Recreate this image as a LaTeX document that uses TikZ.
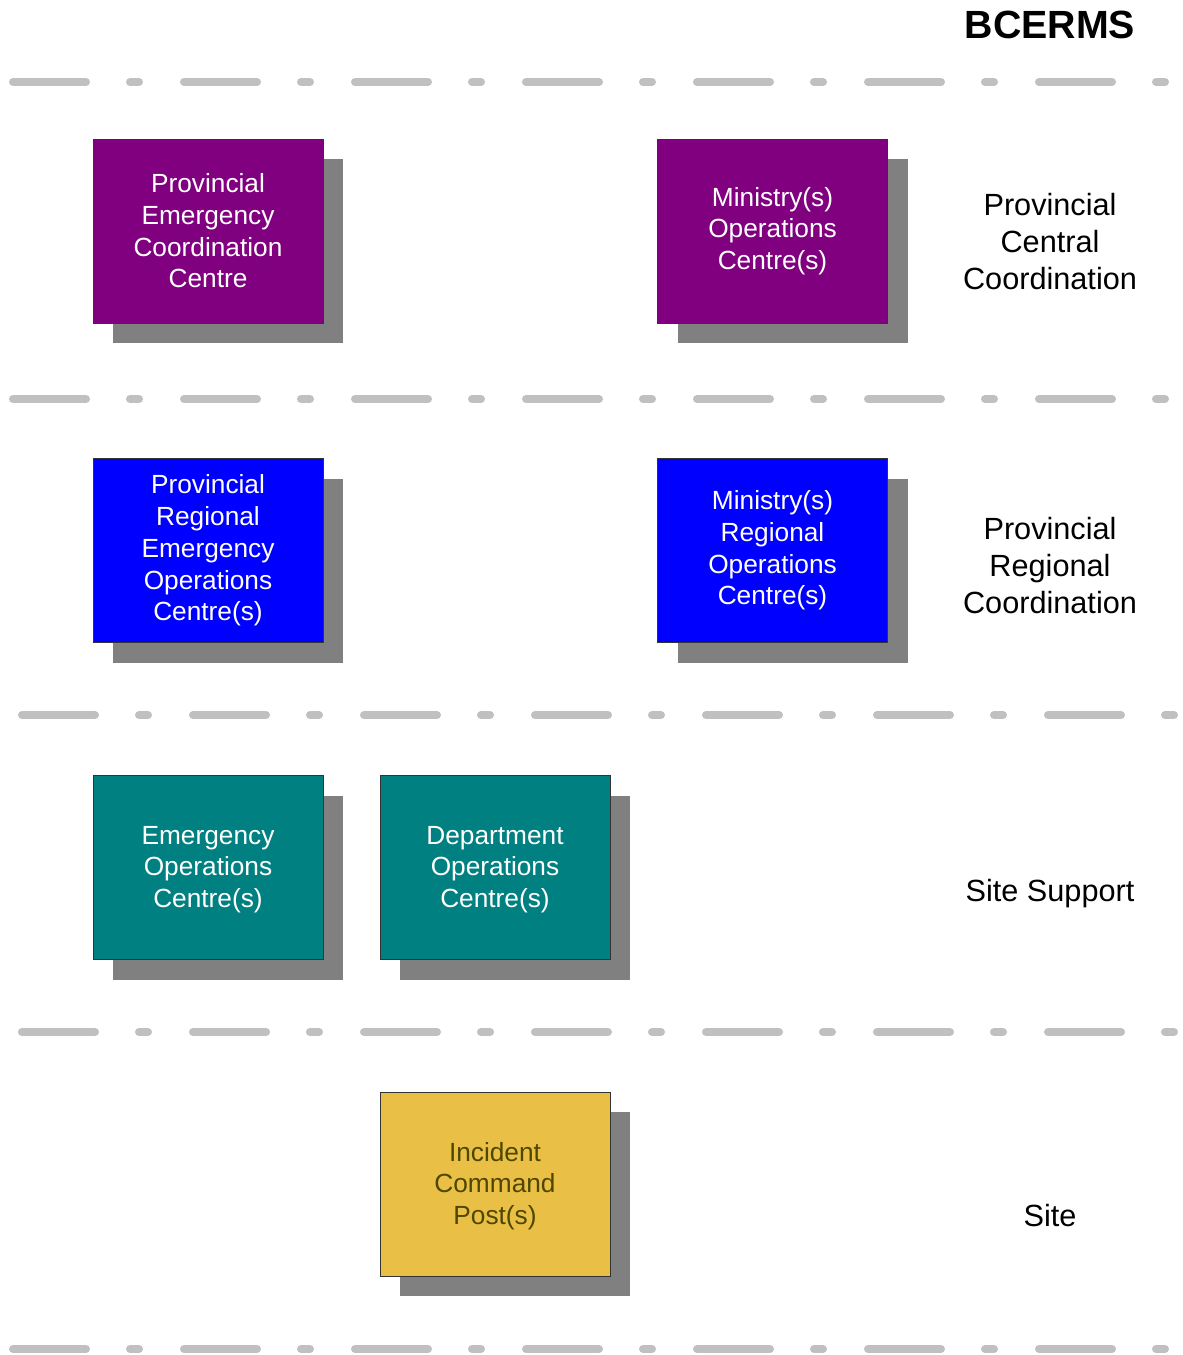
\documentclass[tikz,border=0pt]{standalone}
\usepackage{fontspec}
\setmainfont{Liberation Sans}
\usetikzlibrary{shadows}
\definecolor{dashgray}{RGB}{192,192,192}
\definecolor{shadowgray}{RGB}{128,128,128}
\definecolor{boxpurple}{RGB}{128,0,128}
\definecolor{boxblue}{RGB}{0,0,255}
\definecolor{boxteal}{RGB}{0,128,128}
\definecolor{boxgold}{RGB}{233,191,69}
\definecolor{goldtext}{RGB}{77,71,0}
\tikzset{
  sep/.style={draw=dashgray, line width=6pt, line cap=round,
    dash pattern=on 54.75pt off 33pt on 6.75pt off 33.75pt},
  unit/.style={draw=black!80, line width=0.7pt, minimum width=172.5pt, minimum height=138pt,
    inner sep=0pt, align=center, font=\fontsize{19.7}{23.8}\selectfont,
    general shadow={fill=shadowgray, shadow xshift=15pt, shadow yshift=-15pt}},
  level/.style={align=center, font=\fontsize{23}{27.75}\selectfont},
}
\begin{document}
\begin{tikzpicture}[x=0.75pt, y=-0.75pt]
\useasboundingbox (0,0) rectangle (1182,1355);
% separators
\coordinate (s1a) at (13,82);   \coordinate (s1b) at (1170,82);
\coordinate (s2a) at (13,399);  \coordinate (s2b) at (1170,399);
\coordinate (s3a) at (22,715);  \coordinate (s3b) at (1177,715);
\coordinate (s4a) at (22,1032); \coordinate (s4b) at (1177,1032);
\coordinate (s5a) at (13,1349); \coordinate (s5b) at (1170,1349);
\draw[sep] (s1a) -- (s1b);
\draw[sep] (s2a) -- (s2b);
\draw[sep] (s3a) -- (s3b);
\draw[sep] (s4a) -- (s4b);
\draw[sep] (s5a) -- (s5b);
% title
\node[font=\fontsize{29.5}{34}\selectfont\bfseries] (title) at (1050,25) {BCERMS};
% boxes
\node[unit, fill=boxpurple, text=white] (pecc) at (208,231) {Provincial\\Emergency\\Coordination\\Centre};
\node[unit, fill=boxpurple, text=white] (moc) at (772.5,231) {Ministry(s)\\Operations\\Centre(s)};
\node[unit, fill=boxblue, text=white] (preoc) at (208,550.5) {Provincial\\Regional\\Emergency\\Operations\\Centre(s)};
\node[unit, fill=boxblue, text=white] (mroc) at (772.5,550.5) {Ministry(s)\\Regional\\Operations\\Centre(s)};
\node[unit, fill=boxteal, text=white] (eoc) at (208,867.5) {};
\node[align=center, font=\fontsize{19.7}{23.8}\selectfont, text=white] (eoct) at (208,869.5) {Emergency\\Operations\\Centre(s)};
\node[unit, fill=boxteal, text=white] (doc) at (495,867.5) {};
\node[align=center, font=\fontsize{19.7}{23.8}\selectfont, text=white] (doct) at (495,869.5) {Department\\Operations\\Centre(s)};
\node[unit, fill=boxgold, text=goldtext] (icp) at (495,1184) {};
\node[align=center, font=\fontsize{19.7}{23.8}\selectfont, text=goldtext] (icpt) at (495,1186) {Incident\\Command\\Post(s)};
% level labels
\node[level] (l1) at (1050,241.5) {Provincial\\Central\\Coordination};
\node[level] (l2) at (1050,565.5) {Provincial\\Regional\\Coordination};
\node[level] (l3) at (1050,894) {Site Support};
\node[level] (l4) at (1050,1216) {Site};
\end{tikzpicture}
\end{document}
